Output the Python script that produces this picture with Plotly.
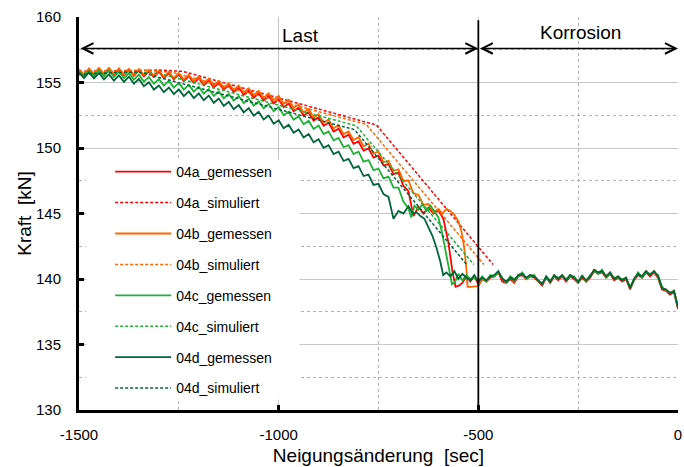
import numpy as np
import plotly.graph_objects as go

# ---------------- data ----------------
x_load = np.arange(-1500, -749, 12.5)          # sample times of loading phase (61)
x_plat = np.arange(-520, 1, 10)                # sample times of corrosion plateau (53)

a_load = [155.92,155.51,155.97,155.55,156.00,155.57,156.02,155.58,156.02,155.56,
          155.97,155.51,155.92,155.46,155.87,155.41,155.82,155.33,155.72,155.23,
          155.62,155.11,155.47,154.96,155.32,154.79,155.14,154.62,154.97,154.45,
          154.80,154.27,154.62,154.06,154.37,153.83,154.17,153.63,153.97,153.41,
          153.72,153.12,153.40,152.80,153.07,152.46,152.72,152.09,152.34,151.69,
          151.92,151.26,151.47,150.81,151.02,150.32,150.50,149.80,149.97,149.26,
          149.42]
b_load = [156.02,155.61,156.07,155.66,156.12,155.68,156.12,155.66,156.07,155.62,
          156.04,155.59,156.02,155.56,155.97,155.51,155.92,155.43,155.82,155.33,
          155.72,155.22,155.60,155.10,155.47,154.95,155.30,154.77,155.12,154.59,
          154.94,154.42,154.77,154.22,154.55,154.02,154.37,153.83,154.17,153.63,
          153.97,153.38,153.67,153.06,153.32,152.71,152.97,152.33,152.57,151.93,
          152.17,151.51,151.72,151.06,151.27,150.61,150.82,150.13,150.32,149.58,
          149.72]
c_load = [155.82,155.41,155.87,155.46,155.92,155.47,155.90,155.42,155.82,155.33,
          155.72,155.22,155.60,155.07,155.42,154.91,155.27,154.76,155.12,154.61,
          154.97,154.46,154.82,154.31,154.67,154.15,154.50,153.97,154.32,153.79,
          154.14,153.62,153.97,153.43,153.77,153.23,153.57,153.03,153.37,152.81,
          153.12,152.51,152.77,152.16,152.42,151.81,152.07,151.46,151.72,151.06,
          151.27,150.58,150.77,150.06,150.22,149.53,149.72,148.96,149.07,148.31,
          148.42]
d_load = [155.77,155.33,155.77,155.31,155.72,155.23,155.62,155.14,155.54,155.05,
          155.44,154.92,155.27,154.71,155.02,154.46,154.77,154.26,154.62,154.11,
          154.47,153.96,154.32,153.81,154.17,153.65,154.00,153.45,153.77,153.21,
          153.52,152.96,153.27,152.72,153.04,152.47,152.77,152.18,152.47,151.86,
          152.12,151.51,151.77,151.16,151.42,150.81,151.07,150.43,150.67,150.01,
          150.22,149.53,149.72,149.01,149.17,148.46,148.62,147.86,147.97,147.18,
          147.27]

a_tail_x = [-737.5,-725,-712.5,-700,-687.5,-675,-662.5,-650,-637.5,-625,-612.5,-600,-587.5,-575,-565,-557,-548,-540,-530]
a_tail_y = [148.66,148.77,148.00,148.12,147.1,146.7,144.8,145.5,145.0,145.45,145.0,145.25,144.6,142.8,140.6,139.4,139.5,139.7,140.2]
b_tail_x = [-737.5,-725,-712.5,-700,-687.5,-675,-662.5,-650,-637.5,-625,-612.5,-600,-590,-580,-570,-560,-550,-542,-535,-530,-527]
b_tail_y = [148.93,149.02,148.26,148.37,147.50,147.52,146.55,146.42,145.65,145.72,145.1,145.35,145.0,145.35,145.2,144.9,144.4,143.6,142.3,140.8,139.4]
c_tail_x = [-737.5,-725,-712.5,-700,-687.5,-675,-668,-660,-650,-640,-630,-620,-610,-600,-590,-580,-573,-566,-558,-550,-540,-530]
c_tail_y = [147.68,147.82,146.98,146.97,145.9,145.4,144.7,145.6,145.3,145.7,145.2,145.6,145.1,144.7,143.4,141.8,140.6,139.6,139.8,140.4,139.9,140.3]
d_tail_x = [-737.5,-725,-712.5,-700,-687.5,-675,-665,-655,-645,-635,-625,-615,-605,-595,-588,-580,-570,-560,-550,-540,-530]
d_tail_y = [146.48,146.27,144.6,145.2,145.0,145.55,145.0,145.1,144.8,144.6,143.9,143.3,142.4,141.3,140.3,140.5,140.2,140.6,140.0,140.4,140.1]

a_plat = [139.8,140.2,139.6,140.0,139.8,140.1,140.2,140.5,139.8,139.7,
          140.0,139.7,140.2,140.3,140.0,140.2,140.1,139.8,139.5,140.1,
          139.7,140.2,139.9,140.2,139.8,140.2,140.0,139.7,140.1,139.8,
          140.1,140.6,140.4,140.5,140.1,140.4,139.9,140.1,139.8,140.0,
          139.2,139.9,140.3,140.1,140.5,140.2,140.5,140.1,139.2,139.1,
          138.8,139.0,137.7]
b_plat = [139.4,139.4,139.45,140.0,139.9,140.2,140.2,140.6,140.0,139.8,
          140.1,139.8,140.3,140.4,140.0,140.3,140.2,139.9,139.6,140.2,
          139.8,140.3,140.0,140.3,139.9,140.3,140.1,139.8,140.2,139.9,
          140.2,140.7,140.5,140.6,140.2,140.5,140.0,140.2,139.9,140.1,
          139.3,140.0,140.4,140.2,140.6,140.3,140.6,140.2,139.3,139.2,
          138.9,139.1,137.8]
c_plat = [140.0,140.1,139.9,140.2,139.8,140.3,140.2,140.5,140.1,139.7,
          140.2,140.0,140.2,140.5,140.0,140.2,140.3,139.8,139.7,140.1,
          139.9,140.2,140.1,140.2,140.0,140.2,140.2,139.7,140.3,139.8,
          140.3,140.6,140.4,140.7,140.1,140.4,140.1,140.1,140.0,140.0,
          139.4,139.9,140.5,140.1,140.5,140.4,140.5,140.3,139.4,139.1,
          139.0,139.0,137.9]
d_plat = [139.9,140.3,139.8,140.1,139.9,140.2,140.3,140.6,140.0,139.8,
          140.1,139.9,140.3,140.4,140.1,140.3,140.2,139.9,139.6,140.2,
          139.8,140.3,140.0,140.3,139.9,140.3,140.1,139.8,140.2,139.9,
          140.2,140.7,140.5,140.6,140.2,140.5,140.0,140.2,139.9,140.1,
          139.3,140.0,140.4,140.2,140.6,140.3,140.6,140.2,139.3,139.2,
          138.9,139.1,137.8]

sim_a_x = [-1500, -1300, -1240, -755, -463]
sim_a_y = [155.85, 155.95, 155.85, 151.75, 141.1]
sim_b_x = [-1500, -1330, -1270, -781, -486]
sim_b_y = [155.8, 155.9, 155.8, 151.8, 141.1]
sim_c_x = [-1500, -1380, -1300, -806, -511]
sim_c_y = [155.7, 155.8, 155.7, 151.7, 141.1]
sim_d_x = [-1500, -1420, -1350, -810, -529]
sim_d_y = [155.6, 155.75, 155.8, 151.4, 141.1]

names = ["04a", "04b", "04c", "04d"]
colors = ["#FF0000", "#FF6600", "#1DB136", "#00663A"]

x_ticks = [-1500, -1000, -500, 0]
x_ticktext = ["-1500", "-1000", "-500", "0"]
y_ticks = [130, 135, 140, 145, 150, 155, 160]
y_ticktext = ["130", "135", "140", "145", "150", "155", "160"]

phase_bound = -500
arrow_level = 157.6

# ---------------- figure ----------------
measured = [(a_load, a_tail_x, a_tail_y, a_plat), (b_load, b_tail_x, b_tail_y, b_plat),
            (c_load, c_tail_x, c_tail_y, c_plat), (d_load, d_tail_x, d_tail_y, d_plat)]
sims = [(sim_a_x, sim_a_y), (sim_b_x, sim_b_y), (sim_c_x, sim_c_y), (sim_d_x, sim_d_y)]

fig = go.Figure()
for nm, col, (ld, tx, ty, pl), (sx, sy) in zip(names, colors, measured, sims):
    xs = list(x_load) + tx + list(x_plat)
    ys = ld + ty + pl
    fig.add_trace(go.Scatter(x=xs, y=ys, mode="lines", name=nm + "_gemessen",
                             legendgroup=nm + "g", line=dict(color=col, width=1.8)))
    fig.add_trace(go.Scatter(x=sx, y=sy, mode="lines", name=nm + "_simuliert",
                             legendgroup=nm + "s", line=dict(color=col, width=1.5, dash="3px,2px")))

grid_major = "#c6c6c6"
grid_minor = "#b0b0b0"
fig.update_xaxes(range=[-1500, 0], tickmode="array", tickvals=x_ticks, ticktext=x_ticktext,
                 automargin=False,
                 showline=True, linecolor="black", linewidth=3, ticks="inside", ticklen=5,
                 tickwidth=3, tickcolor="black", showgrid=True, gridcolor=grid_major, gridwidth=1.3,
                 zeroline=False, tickfont=dict(size=15), ticklabelstandoff=9,
                 minor=dict(dtick=250, tick0=-1500, showgrid=True, gridcolor=grid_minor,
                            griddash="dot", gridwidth=1),
                 title=dict(text="Neigungsänderung\u00a0 [sec]", font=dict(size=19), standoff=7))
fig.update_yaxes(range=[130, 160], tickmode="array", tickvals=y_ticks, ticktext=y_ticktext,
                 automargin=False,
                 showline=True, linecolor="black", linewidth=3, ticks="inside", ticklen=5,
                 tickwidth=3, tickcolor="black", showgrid=True, gridcolor=grid_major, gridwidth=1.3,
                 zeroline=False, tickfont=dict(size=15), ticklabelstandoff=12,
                 minor=dict(dtick=2.5, tick0=130, showgrid=True, gridcolor=grid_minor,
                            griddash="dot", gridwidth=1),
                 title=dict(text="Kraft\u00a0 [kN]", font=dict(size=19), standoff=0))

fig.add_shape(type="rect", xref="x", yref="y", x0=-1482, x1=-948, y0=130.8, y1=149.1,
              fillcolor="white", line=dict(width=0), layer="between")
fig.add_shape(type="line", xref="x", yref="y", x0=phase_bound, x1=phase_bound, y0=130, y1=159.75,
              line=dict(color="black", width=1.8))

for x_from, x_to in [(-1500, phase_bound), (phase_bound, 0)]:
    fig.add_annotation(x=x_to, y=arrow_level, ax=x_from, ay=arrow_level, xref="x", yref="y",
                       axref="x", ayref="y", text="", showarrow=True, arrowhead=5, startarrowhead=5,
                       arrowside="end+start", arrowwidth=1.5, arrowsize=1.4, startarrowsize=1.4,
                       arrowcolor="black")
fig.add_annotation(x=-945, y=158.6, xref="x", yref="y", text="Last", showarrow=False,
                   font=dict(size=19))
fig.add_annotation(x=-245, y=158.85, xref="x", yref="y", text="Korrosion", showarrow=False,
                   font=dict(size=19))

fig.update_layout(width=684, height=467, margin=dict(l=79, r=6, t=17, b=57),
                  plot_bgcolor="white", paper_bgcolor="white",
                  font=dict(family="Liberation Sans, Arial, sans-serif", color="black"),
                  legend=dict(x=0.052, y=0.646, xanchor="left", yanchor="top",
                              bgcolor="rgba(0,0,0,0)", font=dict(size=14),
                              tracegroupgap=9.7, itemwidth=56))

fig.write_html("out.html")
